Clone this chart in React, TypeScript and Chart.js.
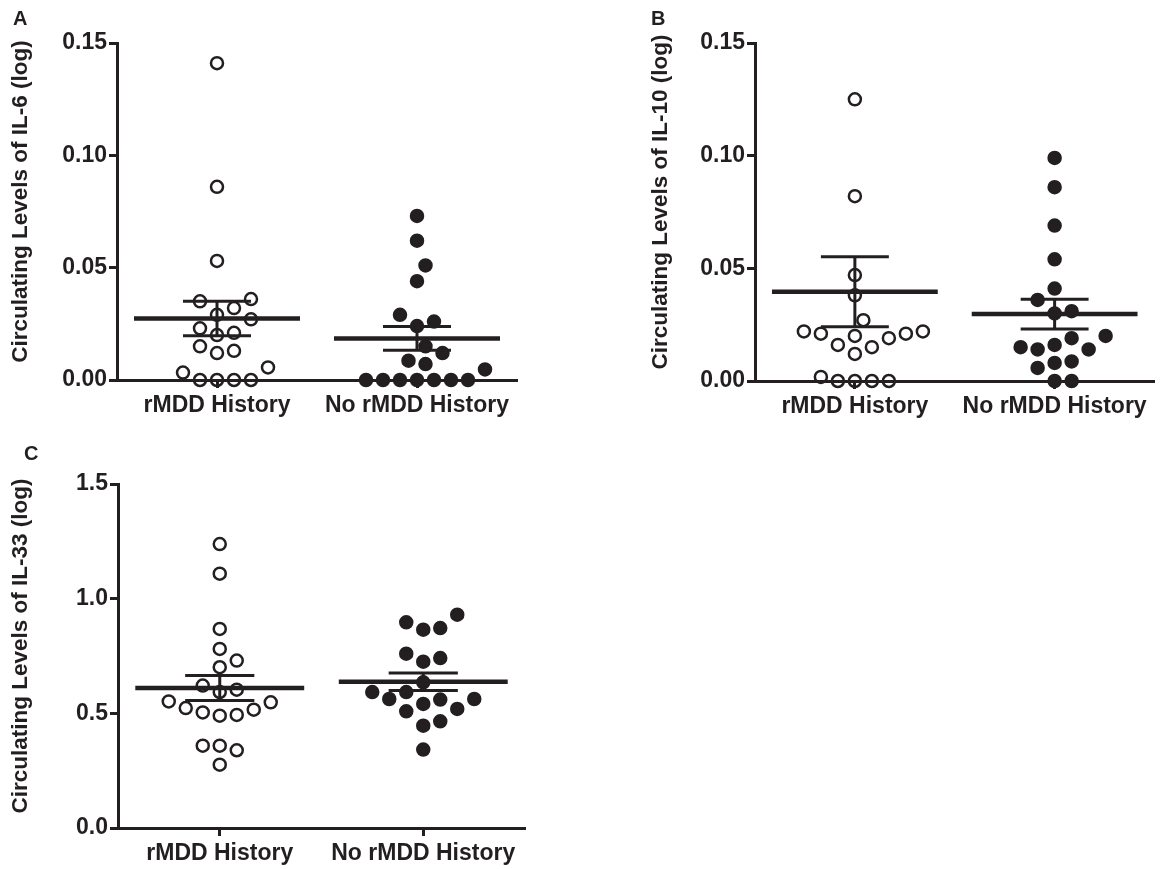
import React, { useEffect, useRef } from "react";
import { Chart, registerables } from "chart.js";

Chart.register(...registerables);

// ---------- data ----------
const categories = ["rMDD History", "No rMDD History"];

const il6Rmdd = [0.141, 0.086, 0.053, 0.035, 0.036, 0.032, 0.027, 0.029, 0.023, 0.021, 0.02, 0.015, 0.013, 0.012, 0.0056, 0.0033, 0, 0, 0, 0];
const il6NoRmdd = [0.073, 0.062, 0.051, 0.044, 0.029, 0.026, 0.024, 0.015, 0.012, 0.0086, 0.0071, 0.0047, 0, 0, 0, 0, 0, 0, 0];
const il6Mean = [0.0274, 0.0185];
const il6Sem = [0.0077, 0.0053];

const il10Rmdd = [0.125, 0.082, 0.047, 0.038, 0.027, 0.022, 0.021, 0.021, 0.022, 0.019, 0.02, 0.015, 0.016, 0.012, 0.0018, 0, 0, 0, 0];
const il10NoRmdd = [0.099, 0.086, 0.069, 0.054, 0.041, 0.036, 0.031, 0.03, 0.019, 0.02, 0.015, 0.014, 0.014, 0.016, 0.0087, 0.0058, 0.008, 0, 0];
const il10Mean = [0.0396, 0.0297];
const il10Sem = [0.0155, 0.0066];

const il33Rmdd = [1.238, 1.109, 0.868, 0.781, 0.73, 0.701, 0.621, 0.603, 0.593, 0.552, 0.548, 0.523, 0.516, 0.504, 0.49, 0.493, 0.359, 0.359, 0.339, 0.276];
const il33NoRmdd = [0.93, 0.897, 0.872, 0.865, 0.76, 0.741, 0.725, 0.635, 0.593, 0.593, 0.5625, 0.541, 0.56, 0.5625, 0.519, 0.509, 0.465, 0.446, 0.342];
const il33Mean = [0.61, 0.638];
const il33Sem = [0.0545, 0.038];

const smallTicks = [0, 0.05, 0.1, 0.15];
const largeTicks = [0, 0.5, 1.0, 1.5];

// ---------- styling ----------
const INK = "#231f20";
const FONT_FAMILY = "'Liberation Sans', Arial, Helvetica, sans-serif";
const MEAN_HALF = 0.415;
const CAP_HALF = 0.17;
const DOT_DIAMETER = 17;
const DOT_STEP = 8.5;
const TITLE_SHIFT = 10;

function swarmOffsets(values: number[], toPx: (v: number) => number): number[] {
  const order = values.map((_, i) => i).sort((a, b) => values[a] - values[b]);
  const placed: { x: number; y: number }[] = [];
  const out = new Array(values.length).fill(0);
  for (const i of order) {
    const y = toPx(values[i]);
    for (let k = 0; k < 400; k++) {
      const m = k === 0 ? 0 : k % 2 === 1 ? (k + 1) / 2 : -(k / 2);
      const x = m * DOT_STEP;
      if (placed.every((p) => Math.hypot(p.x - x, p.y - y) >= DOT_DIAMETER - 0.01)) {
        out[i] = x;
        placed.push({ x, y });
        break;
      }
    }
  }
  return out;
}

// y-axis title drawn along the y scale, slightly above its centre (as in the figure)
const axisTitlePlugin = {
  id: "axisTitle",
  afterDraw(chart: any, _args: any, opts: any) {
    if (!opts || !opts.text) return;
    const ys = chart.scales.y;
    const ctx = chart.ctx;
    const size = opts.size || 22.5;
    ctx.save();
    ctx.translate(ys.left + size * 0.6, (ys.top + ys.bottom) / 2 - TITLE_SHIFT);
    ctx.rotate(-Math.PI / 2);
    ctx.font = `bold ${size}px ${FONT_FAMILY}`;
    ctx.fillStyle = INK;
    ctx.textAlign = "center";
    ctx.textBaseline = "middle";
    ctx.fillText(opts.text, 0, 0);
    ctx.restore();
  },
};

type PanelProps = {
  left: number;
  top: number;
  width: number;
  height: number;
  pad: { left: number; right: number; top: number; bottom: number };
  yWidth: number;
  xHeight: number;
  groups: number[][];
  means: number[];
  sems: number[];
  yMax: number;
  yTicks: number[];
  decimals: number;
  title: string;
};

function Panel(props: PanelProps) {
  const ref = useRef<HTMLCanvasElement | null>(null);
  useEffect(() => {
    const canvas = ref.current;
    if (!canvas) return;
    const { groups, means, sems } = props;

    const lineDatasets: any[] = [];
    means.forEach((m, g) => {
      const c = g + 1;
      const s = sems[g];
      const seg = (pts: { x: number; y: number }[], w: number) => ({
        type: "line",
        data: pts,
        showLine: true,
        borderColor: INK,
        borderWidth: w,
        pointRadius: 0,
        pointHoverRadius: 0,
        borderCapStyle: "butt",
        fill: false,
        clip: false,
      });
      lineDatasets.push(seg([{ x: c - MEAN_HALF, y: m }, { x: c + MEAN_HALF, y: m }], 4.5));
      lineDatasets.push(seg([{ x: c, y: m - s }, { x: c, y: m + s }], 3));
      lineDatasets.push(seg([{ x: c - CAP_HALF, y: m + s }, { x: c + CAP_HALF, y: m + s }], 3));
      lineDatasets.push(seg([{ x: c - CAP_HALF, y: m - s }, { x: c + CAP_HALF, y: m - s }], 3));
    });

    const pointDatasets = groups.map((vals, g) => ({
      type: "scatter",
      data: vals.map((v) => ({ x: g + 1, y: v })),
      showLine: false,
      pointRadius: 6,
      pointHoverRadius: 6,
      pointBorderWidth: 2.5,
      pointBorderColor: INK,
      pointBackgroundColor: g === 0 ? "rgba(255,255,255,0)" : INK,
      clip: false,
    }));

    const tickFont = { family: FONT_FAMILY, size: 23, weight: "bold" as const };
    const gridOpts = {
      display: true,
      drawOnChartArea: false,
      drawTicks: true,
      tickLength: 8,
      tickWidth: 3,
      tickColor: INK,
    };
    const borderOpts = { display: true, width: 3, color: INK };

    const chart = new Chart(canvas, {
      type: "scatter",
      data: { datasets: [...lineDatasets, ...pointDatasets] as any },
      plugins: [axisTitlePlugin],
      options: {
        responsive: false,
        animation: false,
        events: [],
        layout: { padding: props.pad },
        plugins: {
          legend: { display: false },
          tooltip: { enabled: false },
          title: { display: false },
          axisTitle: { text: props.title, size: 22.5 },
        },
        scales: {
          x: {
            type: "linear",
            min: 0.5,
            max: categories.length + 0.5,
            afterBuildTicks: (s: any) => {
              s.ticks = categories.map((_, i) => ({ value: i + 1 }));
            },
            ticks: {
              autoSkip: false,
              maxRotation: 0,
              padding: 4,
              color: INK,
              font: tickFont,
              callback: (v: any) => categories[Number(v) - 1] ?? "",
            },
            grid: gridOpts,
            border: borderOpts,
            afterFit: (s: any) => {
              s.height = props.xHeight;
            },
          },
          y: {
            type: "linear",
            min: 0,
            max: props.yMax,
            afterBuildTicks: (s: any) => {
              s.ticks = props.yTicks.map((v) => ({ value: v }));
            },
            ticks: {
              padding: 2,
              color: INK,
              font: tickFont,
              callback: (v: any) => Number(v).toFixed(props.decimals),
            },
            grid: gridOpts,
            border: borderOpts,
            afterFit: (s: any) => {
              s.width = props.yWidth;
            },
          },
        },
      } as any,
    });

    // beeswarm spread of the points, computed through the chart's own scales
    const xs: any = chart.scales.x;
    const ys: any = chart.scales.y;
    const unit = xs.getPixelForValue(2) - xs.getPixelForValue(1);
    groups.forEach((vals, g) => {
      const offs = swarmOffsets(vals, (v) => ys.getPixelForValue(v));
      (chart.data.datasets[lineDatasets.length + g] as any).data = vals.map((v, i) => ({
        x: g + 1 + offs[i] / unit,
        y: v,
      }));
    });
    chart.update();

    return () => chart.destroy();
  }, []);

  return (
    <canvas
      ref={ref}
      width={props.width}
      height={props.height}
      style={{ position: "absolute", left: props.left, top: props.top, width: props.width, height: props.height }}
    />
  );
}

const letterStyle: React.CSSProperties = {
  position: "absolute",
  fontFamily: FONT_FAMILY,
  fontWeight: "bold",
  fontSize: 20,
  lineHeight: "20px",
  color: INK,
};

export default function App() {
  return (
    <div
      style={{
        position: "fixed",
        left: 0,
        top: 0,
        width: 1163,
        height: 869,
        background: "#ffffff",
        overflow: "hidden",
      }}
    >
      <Panel
        left={0}
        top={0}
        width={560}
        height={440}
        pad={{ left: 7, right: 43, top: 43, bottom: 10 }}
        yWidth={110}
        xHeight={50}
        groups={[il6Rmdd, il6NoRmdd]}
        means={il6Mean}
        sems={il6Sem}
        yMax={0.15}
        yTicks={smallTicks}
        decimals={2}
        title="Circulating Levels of IL-6 (log)"
      />
      <Panel
        left={640}
        top={0}
        width={523}
        height={440}
        pad={{ left: 7, right: 8, top: 43, bottom: 10 }}
        yWidth={108}
        xHeight={49}
        groups={[il10Rmdd, il10NoRmdd]}
        means={il10Mean}
        sems={il10Sem}
        yMax={0.15}
        yTicks={smallTicks}
        decimals={2}
        title="Circulating Levels of IL-10 (log)"
      />
      <Panel
        left={0}
        top={440}
        width={560}
        height={429}
        pad={{ left: 7, right: 35, top: 44, bottom: 0 }}
        yWidth={111}
        xHeight={41}
        groups={[il33Rmdd, il33NoRmdd]}
        means={il33Mean}
        sems={il33Sem}
        yMax={1.5}
        yTicks={largeTicks}
        decimals={1}
        title="Circulating Levels of IL-33 (log)"
      />
      <div style={{ ...letterStyle, left: 13, top: 8 }}>A</div>
      <div style={{ ...letterStyle, left: 651, top: 8 }}>B</div>
      <div style={{ ...letterStyle, left: 24, top: 443 }}>C</div>
    </div>
  );
}
